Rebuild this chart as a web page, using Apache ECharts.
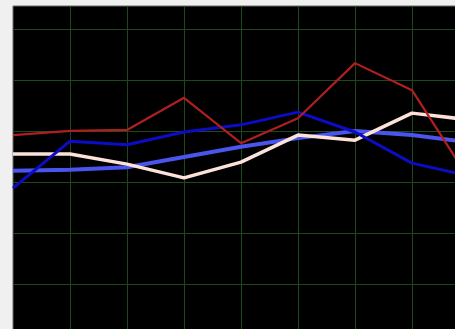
<!DOCTYPE html>
<html>
<head>
<meta charset="utf-8">
<script src="https://cdn.jsdelivr.net/npm/echarts@6/dist/echarts.min.js"></script>
<style>html,body{margin:0;padding:0;background:#f0f0f0;}#c{width:455px;height:329px;}</style>
</head>
<body>
<div id="c"></div>
<script>
const categories = ['1','2','3','4','5','6','7','8','9','10'];
const redSeries   = [39.2, 40.0, 40.2, 46.5, 37.6, 42.5, 53.3, 48.0, 30.6, 27.0];
const navySeries  = [28.8, 38.0, 37.3, 39.8, 41.2, 43.7, 39.8, 33.7, 31.2, 30.0];
const pinkSeries  = [35.5, 35.5, 33.5, 30.8, 33.9, 39.2, 38.2, 43.5, 42.2, 41.0];
const royalSeries = [32.2, 32.4, 32.9, 34.9, 36.9, 38.6, 40.0, 39.2, 37.8, 37.0];

const chart = echarts.init(document.getElementById('c'), null, {renderer: 'canvas'});
function line(data, color, width) {
  return {type: 'line', data: data, symbol: 'none', smooth: false,
          lineStyle: {color: color, width: width}, itemStyle: {color: color}};
}
chart.setOption({
  animation: false,
  backgroundColor: '#f0f0f0',
  grid: {show: true, left: 13, top: 6, width: 513, height: 329, outerBoundsMode: 'none',
         containLabel: false,
         backgroundColor: '#000000', borderColor: '#6a6a6a', borderWidth: 1},
  xAxis: {type: 'category', data: categories, boundaryGap: false,
          axisLine: {show: false}, axisTick: {show: false}, axisLabel: {show: false},
          splitLine: {show: true, showMinLine: false, lineStyle: {color: '#1d4a1d', width: 1}}},
  yAxis: {type: 'value', min: 0, max: 64.5, interval: 10,
          axisLine: {show: false}, axisTick: {show: false}, axisLabel: {show: false},
          splitLine: {show: true, showMaxLine: false, showMinLine: false, lineStyle: {color: '#1d4a1d', width: 1}}},
  series: [
    line(royalSeries, '#4a55ee', 4),
    line(pinkSeries, '#fde2da', 3.5),
    line(navySeries, '#0c0cc4', 3),
    line(redSeries, '#b01f1f', 2.2)
  ]
});
</script>
</body>
</html>
